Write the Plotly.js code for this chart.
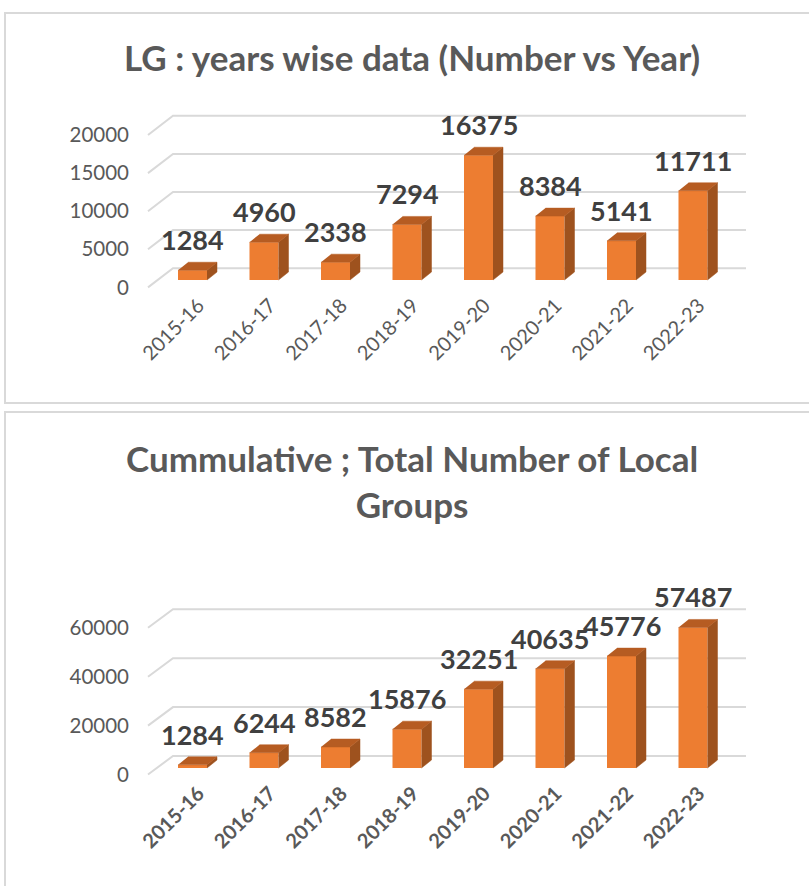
<!DOCTYPE html>
<html>
<head>
<meta charset="utf-8">
<script src="https://cdn.plot.ly/plotly-3.0.1.min.js"></script>
<style>html,body{margin:0;padding:0;background:#fff;}#chart{width:809px;height:886px;}</style>
</head>
<body>
<div id="chart"></div>
<script>
// ---- data ----
const categories = ['2015-16','2016-17','2017-18','2018-19','2019-20','2020-21','2021-22','2022-23'];
const yearlyValues = [1284, 4960, 2338, 7294, 16375, 8384, 5141, 11711];
const cumulativeValues = [1284, 6244, 8582, 15876, 32251, 40635, 45776, 57487];
const yearlyTicks = [0, 5000, 10000, 15000, 20000];
const cumulativeTicks = [0, 20000, 40000, 60000];
const title1 = 'LG : years wise data (Number vs Year)';
const title2 = 'Cummulative ; Total Number of Local<br>Groups';

// ---- geometry / style (pixels) ----
const W = 809, H = 886;
const FRONT = '#ED7D31', SIDE = '#9E521E', TOP = '#B65C22';
const GRID = '#d9d9d9', TXT = '#595959', LBL = '#404040';
const x0px = 192.5, stepPx = 71.5, barPx = 29, depthDx = 10, depthDy = 8;
const gridFrontX = 148, gridBackX = 173, gridEndX = 746;
const xr0 = -x0px / stepPx, xr1 = (W - x0px) / stepPx;
const xu = p => (p - x0px) / stepPx;

const charts = [
  {values: yearlyValues, ticks: yearlyTicks, zeroY: 280, pxPerUnit: 38.1/5000, top: 100, bot: 289,
   frontOff: 7.4, backOff: 11.8, xa: 'x', ya: ['y','y2','y3'], boldCats: false},
  {values: cumulativeValues, ticks: cumulativeTicks, zeroY: 768, pxPerUnit: 48.9/20000, top: 560, bot: 777,
   frontOff: 6.5, backOff: 12, xa: 'x2', ya: ['y4','y5','y6'], boldCats: true}
];

const data = [];
const layout = {
  width: W, height: H, margin: {l:0, r:0, t:0, b:0},
  paper_bgcolor: '#fff', plot_bgcolor: 'rgba(0,0,0,0)',
  showlegend: false, font: {family: 'Lato, sans-serif', color: TXT},
  annotations: [], shapes: []
};

charts.forEach((c, ci) => {
  const upp = 1 / c.pxPerUnit;
  const r0 = -(c.bot - c.zeroY) * upp, r1 = (c.zeroY - c.top) * upp;
  const dom = [1 - c.bot / H, 1 - c.top / H];
  const [yg, yb, yl] = c.ya;
  const xk = c.xa === 'x' ? 'xaxis' : 'xaxis2';
  const k = s => s === 'y' ? 'yaxis' : 'yaxis' + s.slice(1);

  layout[xk] = {domain: [0,1], range: [xr0, xr1], anchor: yg, showgrid: false, zeroline: false,
    showline: false, ticks: '', tickvals: categories.map((_, i) => i), ticktext: categories,
    tickangle: -45, ticklabelstandoff: 0, ticklabelshift: 6,
    tickfont: {family: 'Lato', size: 20, color: TXT, weight: c.boldCats ? 'bold' : 'normal'}, fixedrange: true};
  layout[k(yg)] = {domain: dom, range: [r0, r1], anchor: c.xa, visible: false, fixedrange: true};
  layout[k(yb)] = {overlaying: yg, range: [r0, r1], anchor: c.xa, visible: false, fixedrange: true};
  const f = c.frontOff * upp;
  layout[k(yl)] = {overlaying: yg, range: [r0 + f, r1 + f], anchor: 'free', position: 129 / W, side: 'left',
    showgrid: false, zeroline: false, showline: false, ticks: '', tickvals: c.ticks,
    ticktext: c.ticks.map(String), tickfont: {family: 'Lato', size: 20.5, color: TXT}, fixedrange: true};

  // gridlines (3D wall)
  const gx = [], gy = [];
  c.ticks.forEach(t => {
    gx.push(xu(gridFrontX), xu(gridBackX), xu(gridEndX), null);
    gy.push(t - c.frontOff * upp, t + c.backOff * upp, t + c.backOff * upp, null);
  });
  data.push({type: 'scatter', mode: 'lines', x: gx, y: gy, xaxis: c.xa, yaxis: yg,
    line: {color: GRID, width: 2}, hoverinfo: 'skip'});
  // invisible trace so the label axis is drawn
  data.push({type: 'scatter', mode: 'markers', x: [0], y: [0], xaxis: c.xa, yaxis: yl,
    marker: {opacity: 0, size: 1}, hoverinfo: 'skip'});

  // bars
  const w = barPx / stepPx, hw = w / 2, ddx = depthDx / stepPx, ddy = depthDy * upp;
  data.push({type: 'bar', x: categories.map((_, i) => i), y: c.values, width: w, xaxis: c.xa, yaxis: yb,
    marker: {color: FRONT, line: {width: 0}}, hoverinfo: 'skip'});
  const sx = [], sy = [], tx = [], ty = [];
  c.values.forEach((v, i) => {
    sx.push(i + hw, i + hw + ddx, i + hw + ddx, i + hw, null);
    sy.push(0, ddy, v + ddy, v, null);
    tx.push(i - hw, i + hw, i + hw + ddx, i - hw + ddx, null);
    ty.push(v, v, v + ddy, v + ddy, null);
  });
  data.push({type: 'scatter', mode: 'lines', x: sx, y: sy, xaxis: c.xa, yaxis: yb, fill: 'toself',
    fillcolor: SIDE, line: {color: SIDE, width: 0.5}, hoverinfo: 'skip'});
  data.push({type: 'scatter', mode: 'lines', x: tx, y: ty, xaxis: c.xa, yaxis: yb, fill: 'toself',
    fillcolor: TOP, line: {color: TOP, width: 0.5}, hoverinfo: 'skip'});

  // data labels
  c.values.forEach((v, i) => {
    layout.annotations.push({x: i, y: v, xref: c.xa, yref: yb, text: String(v), showarrow: false,
      yanchor: 'bottom', xanchor: 'center', yshift: 12,
      font: {family: 'Lato', size: 27, color: LBL, weight: 'bold'}});
  });
});

// titles
layout.annotations.push({x: 412 / W, y: 1 - 57 / H, xref: 'paper', yref: 'paper', text: title1, showarrow: false,
  xanchor: 'center', yanchor: 'middle', font: {family: 'Lato', size: 35, color: TXT, weight: 'bold'}});
layout.annotations.push({x: 412 / W, y: 1 - 481 / H, xref: 'paper', yref: 'paper', text: title2, showarrow: false,
  xanchor: 'center', yanchor: 'middle', font: {family: 'Lato', size: 35, color: TXT, weight: 'bold'}});

// panel borders
layout.shapes.push({type: 'rect', xref: 'paper', yref: 'paper', x0: 5 / W, x1: 1.05, y0: 1 - 403 / H, y1: 1 - 13 / H,
  line: {color: GRID, width: 2}, fillcolor: 'rgba(0,0,0,0)', layer: 'below'});
layout.shapes.push({type: 'rect', xref: 'paper', yref: 'paper', x0: 5 / W, x1: 1.05, y0: -0.05, y1: 1 - 412 / H,
  line: {color: GRID, width: 2}, fillcolor: 'rgba(0,0,0,0)', layer: 'below'});

Plotly.newPlot('chart', data, layout, {displayModeBar: false, staticPlot: true});
</script>
</body>
</html>
